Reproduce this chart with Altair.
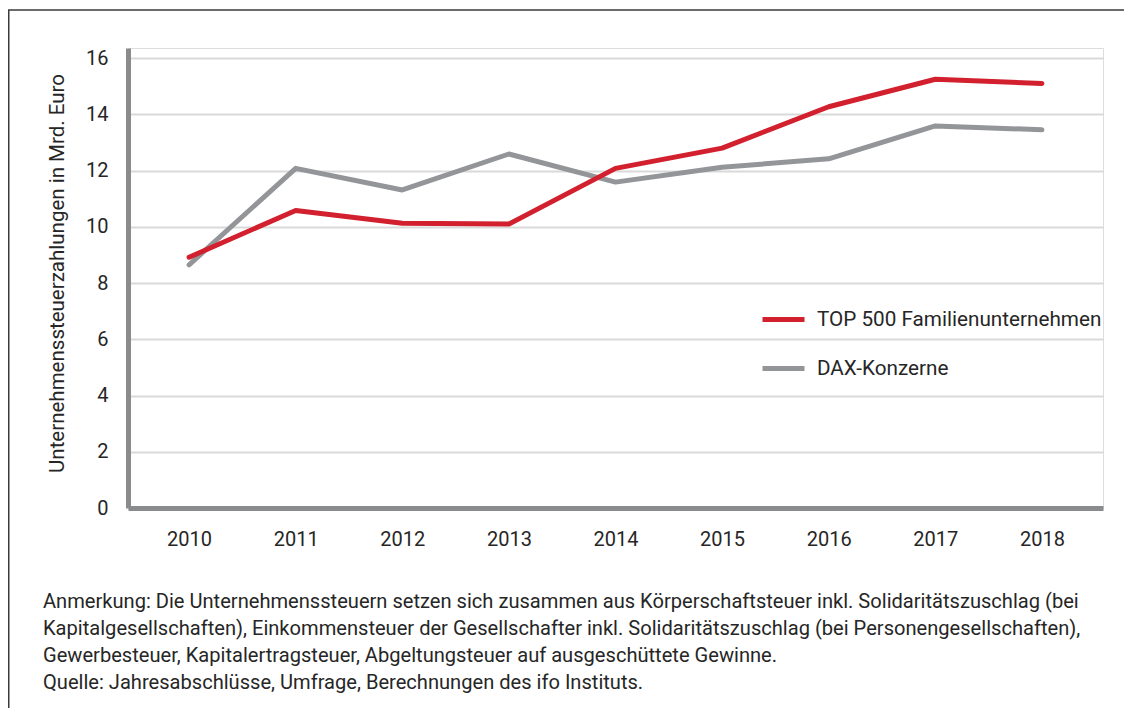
import altair as alt
import pandas as pd

years = [2010, 2011, 2012, 2013, 2014, 2015, 2016, 2017, 2018]
top500 = [8.92, 10.58, 10.13, 10.10, 12.08, 12.80, 14.27, 15.25, 15.10]
dax = [8.65, 12.08, 11.31, 12.59, 11.59, 12.12, 12.42, 13.59, 13.45]
series_names = ["TOP 500 Familienunternehmen", "DAX-Konzerne"]
series_colors = ["#d2202f", "#939598"]
y_ticks = [0, 2, 4, 6, 8, 10, 12, 14, 16]
y_title = "Unternehmenssteuerzahlungen in Mrd. Euro"
footnote = [
    "Anmerkung: Die Unternehmenssteuern setzen sich zusammen aus Körperschaftsteuer inkl. Solidaritätszuschlag (bei",
    "Kapitalgesellschaften), Einkommensteuer der Gesellschafter inkl. Solidaritätszuschlag (bei Personengesellschaften),",
    "Gewerbesteuer, Kapitalertragsteuer, Abgeltungsteuer auf ausgeschüttete Gewinne.",
    "Quelle: Jahresabschlüsse, Umfrage, Berechnungen des ifo Instituts.",
]

FONT = "Roboto"
TXT = "#262626"

df_red = pd.DataFrame({"year": years, "value": top500, "series": series_names[0]})
df_gray = pd.DataFrame({"year": years, "value": dax, "series": series_names[1]})

x_enc = alt.X(
    "year:O",
    scale=alt.Scale(type="point", padding=0.573),
    axis=alt.Axis(
        title=None, labelAngle=0, ticks=False, grid=False,
        domainColor="#8a8b8d", domainWidth=5, labelPadding=21,
        labelFont=FONT, labelFontSize=20, labelColor=TXT,
    ),
)
y_enc = alt.Y(
    "value:Q",
    scale=alt.Scale(domain=[0, 16.36], nice=False, zero=True),
    axis=alt.Axis(
        values=y_ticks, ticks=False, grid=True, gridColor="#d9d9d9", gridWidth=2,
        domainColor="#8a8b8d", domainWidth=5, labelPadding=20,
        labelFont=FONT, labelFontSize=20, labelColor=TXT,
        title=y_title, titleFont=FONT, titleFontSize=20.5, titleFontWeight="normal",
        titleColor=TXT, titleX=-71, titleY=225, titleAlign="center",
        titleBaseline="middle", titleAngle=270,
    ),
)
color_enc = alt.Color(
    "series:N",
    scale=alt.Scale(domain=series_names, range=series_colors),
    legend=alt.Legend(
        title=None, orient="none", legendX=632, legendY=248,
        symbolType="stroke", symbolSize=1764, symbolStrokeWidth=5,
        labelFont=FONT, labelFontSize=20.7, labelColor=TXT, labelOffset=10,
        labelLimit=0, rowPadding=15, padding=0,
    ),
)

gray_line = alt.Chart(df_gray).mark_line(strokeWidth=5, strokeCap="round", strokeJoin="round").encode(
    x=x_enc, y=y_enc, color=color_enc
)
red_line = alt.Chart(df_red).mark_line(strokeWidth=5, strokeCap="round", strokeJoin="round").encode(
    x=x_enc, y=y_enc, color=color_enc
)

one = pd.DataFrame({"k": [0]})
frame_top = alt.Chart(one).mark_rule(color="#3a3a3a", strokeWidth=1.5).encode(
    x=alt.value(-120), x2=alt.value(996), y=alt.value(-38)
)
frame_left = alt.Chart(one).mark_rule(color="#3a3a3a", strokeWidth=1.5).encode(
    x=alt.value(-119.25), y=alt.value(-38), y2=alt.value(662)
)
note = alt.Chart(one).mark_text(
    align="left", baseline="top", font=FONT, fontSize=20.1, color=TXT, lineHeight=27
).encode(x=alt.value(-85), y=alt.value(544), text=alt.value(footnote))

chart = alt.layer(frame_top, frame_left, gray_line, red_line, note).properties(
    width=975,
    height=460,
    autosize=alt.AutoSizeParams(type="none"),
    padding={"left": 120, "top": 40, "right": 21, "bottom": 200},
).configure_view(stroke=None).configure(background="white")

chart.save("out.html", embed_options={"renderer": "svg", "actions": False})
